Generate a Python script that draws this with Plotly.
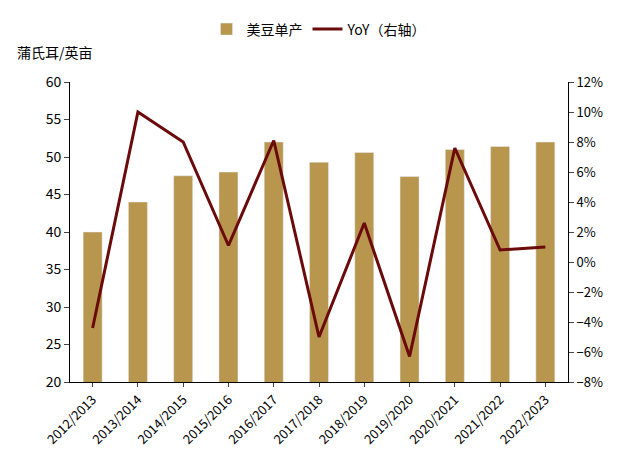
import plotly.graph_objects as go

years = ["2012/2013", "2013/2014", "2014/2015", "2015/2016", "2016/2017", "2017/2018",
         "2018/2019", "2019/2020", "2020/2021", "2021/2022", "2022/2023"]
yield_bu = [40.0, 44.0, 47.5, 48.0, 52.0, 49.3, 50.6, 47.4, 51.0, 51.4, 52.0]
yoy = [-4.4, 10.0, 8.0, 1.1, 8.1, -5.0, 2.6, -6.3, 7.6, 0.8, 1.0]

font = "Noto Sans CJK SC"
fig = go.Figure()
fig.add_trace(go.Bar(x=years, y=yield_bu, name="美豆单产", marker_color="#B8964E", width=0.42))
fig.add_trace(go.Scatter(x=years, y=yoy, name="YoY（右轴）", yaxis="y2", mode="lines",
                         line=dict(color="#6B0A0A", width=3)))

fig.update_layout(
    width=617, height=458, plot_bgcolor="white", paper_bgcolor="white",
    font=dict(family=font, size=13, color="black"),
    margin=dict(l=62, r=57, t=74, b=84, autoexpand=False),
    legend=dict(orientation="h", x=0.5, xanchor="center", y=1.175, yanchor="middle",
                font=dict(size=14)),
    xaxis=dict(tickangle=-45, showline=True, linecolor="black", ticks="outside",
               ticklen=4, tickfont=dict(size=13)),
    yaxis=dict(range=[20, 60], dtick=5, showline=True, linecolor="black", ticks="outside",
               showgrid=False, tickfont=dict(size=14)),
    yaxis2=dict(range=[-8, 12], dtick=2, overlaying="y", side="right", showline=True,
                linecolor="black", ticks="outside", showgrid=False, ticksuffix="%",
                tickfont=dict(size=13)),
    annotations=[dict(text="蒲氏耳/英亩", xref="paper", yref="paper", x=-0.11, y=1.1,
                      xanchor="left", yanchor="middle", showarrow=False, font=dict(size=14))],
)
fig.write_html("out.html")
